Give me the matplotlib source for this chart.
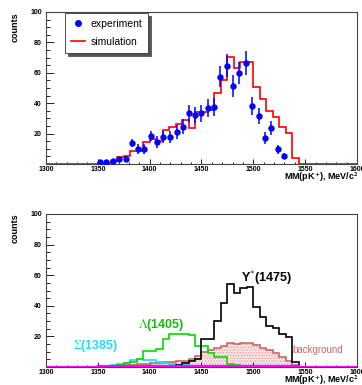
import matplotlib

matplotlib.use("Agg")
import matplotlib.pyplot as plt
import numpy as np
from matplotlib.lines import Line2D
from matplotlib.ticker import MultipleLocator, FixedLocator

plt.rcParams["font.family"] = ["Liberation Sans", "DejaVu Sans"]
plt.rcParams["mathtext.fontset"] = "stix"
plt.rcParams["hatch.linewidth"] = 0.6

# histogram binning: 48 bins of 6.25 MeV from 1300 to 1600, filled bins start at 1350
edges = np.linspace(1300, 1600, 49)
first_bin = 8

# top panel: experiment points
exp_mm = [1352, 1358, 1364.5, 1370.5, 1377, 1383, 1389, 1395, 1401, 1407,
          1413, 1419.5, 1426, 1432, 1437.5, 1444, 1450, 1456, 1462, 1468,
          1474.5, 1480.5, 1486.5, 1493, 1499, 1505, 1511, 1517, 1523.5, 1529.5]
exp_counts = [1, 1, 2, 3, 3.5, 14, 10, 10, 18.5, 14.3,
              17.8, 17.8, 21, 24.6, 33.4, 32.3, 33.4, 36.7, 37.4, 57.5,
              64.6, 51.4, 59.8, 66.4, 38.2, 31.6, 16.9, 23.5, 9.7, 5.3]
exp_err = [1.0, 1.0, 1.4, 1.7, 1.9, 2.5, 3.2, 3.2, 3.5, 3.8,
           4.0, 4.0, 4.5, 4.8, 5.5, 5.5, 5.5, 5.8, 5.8, 7.0,
           7.5, 7.0, 7.3, 7.8, 6.0, 5.5, 4.0, 4.6, 3.0, 2.2]

# top panel: simulation histogram (bins from 1350)
simulation = [0.7, 0.7, 1.8, 4.8, 5.3, 8.6, 8.6, 14.7, 16.3, 15.4,
              22.4, 24.6, 26.4, 29, 23.5, 34.5, 34.5, 35.6, 47, 55.4,
              70.3, 63, 67, 67, 50.5, 43, 35, 31.2, 24.6, 20.7, 3.7]

# bottom panel: components (bins from 1350)
y1475 = [0, 0, 0, 0, 0, 0, 0, 0, 0, 0,
         0, 0.5, 1.2, 2.4, 4.0, 5.5, 18.5, 18.5, 30, 42,
         54, 48.6, 51.4, 52.5, 39.4, 32.5, 26.8, 25.3, 21.6, 19.8, 3.5]
lambda1405 = [0, 0, 0.5, 1.3, 2.5, 3.5, 5.0, 10.5, 10.5, 11.5,
              18.5, 21.6, 21.6, 21.6, 21, 14, 14, 9, 6.8, 6.8,
              2, 1.2, 0.6, 0.3, 0, 0, 0, 0, 0, 0, 0]
sigma1385 = [0.3, 0.7, 1.2, 1.8, 2.8, 4.5, 5.0, 4.3, 4.6, 3.5,
             2.5, 2.0, 1.5, 1.0, 0.7, 0.4, 0.2, 0, 0, 0,
             0, 0, 0, 0, 0, 0, 0, 0, 0, 0, 0]
background = [0.3, 0.5, 0.8, 1.0, 1.3, 1.6, 1.9, 2.2, 2.5, 2.8,
              3.1, 3.4, 3.8, 4.2, 5.5, 7.5, 9.5, 11, 12.5, 14,
              16, 15.3, 15.5, 15.8, 14.5, 12.5, 11, 9, 6.5, 4, 1.2]
other = [0.5, 0.5, 0.5, 0.5, 0.5, 0.5, 0.5, 0.5, 0.5, 0.5,
         0.5, 0.5, 0.5, 0.5, 0.5, 0.5, 0.5, 0.5, 0.5, 0.5,
         0.5, 0.5, 0.5, 0.5, 0.5, 0.5, 0.5, 0.5, 0.5, 0.5, 0.4]

xticks = [1300, 1350, 1400, 1450, 1500, 1550, 1600]
yticks = [20, 40, 60, 80, 100]


def full(vals):
    h = np.zeros(len(edges) - 1)
    h[first_bin:first_bin + len(vals)] = vals
    return h


def style_axes(ax):
    ax.set_xlim(1300, 1600)
    ax.set_ylim(0, 100)
    ax.xaxis.set_major_locator(FixedLocator(xticks))
    ax.xaxis.set_minor_locator(MultipleLocator(10))
    ax.yaxis.set_major_locator(FixedLocator(yticks))
    ax.yaxis.set_minor_locator(MultipleLocator(5))
    ax.tick_params(axis="both", which="both", direction="in", top=False, right=False,
                   labelsize=5)
    ax.tick_params(axis="x", which="major", length=3.4, width=0.6, pad=1.5)
    ax.tick_params(axis="x", which="minor", length=1.8, width=0.6)
    ax.tick_params(axis="y", which="major", length=5.8, width=0.6, pad=3)
    ax.tick_params(axis="y", which="minor", length=2.9, width=0.6)
    for lab in ax.get_xticklabels() + ax.get_yticklabels():
        lab.set_fontweight("bold")
    for s in ax.spines.values():
        s.set_color("#444444")
        s.set_linewidth(0.8)


fig = plt.figure(figsize=(3.62, 3.85), dpi=100)
W, H = 362, 385
ax1 = fig.add_axes([46 / W, 1 - 164 / H, 311 / W, 152 / H])
ax2 = fig.add_axes([46 / W, 1 - 367 / H, 311 / W, 153 / H])

# top panel
ax1.stairs(full(simulation), edges, color="#ff0000", linewidth=1.2, zorder=2)
ax1.errorbar(exp_mm, exp_counts, yerr=exp_err, fmt="o", color="#0000ff",
             markersize=3.6, elinewidth=1.1, capsize=0, zorder=3)
style_axes(ax1)
handles = [Line2D([], [], marker="o", linestyle="none", color="#0000ff", markersize=4),
           Line2D([], [], color="#ff0000", linewidth=1.2)]
leg = ax1.legend(handles, ["experiment", "simulation"], loc="upper left",
                 bbox_to_anchor=(0.061, 0.993), borderaxespad=0, fancybox=False,
                 shadow={"color": "#555555", "alpha": 1}, fontsize=7.5,
                 handlelength=1.4, handletextpad=0.5,
                 labelspacing=0.8, borderpad=0.55, framealpha=1)
leg.get_frame().set_edgecolor("#333333")
leg.get_frame().set_linewidth(0.6)

# bottom panel
ax2.stairs(full(background), edges, fill=True, facecolor="#fbe4e4",
           edgecolor="#e29a9a", linewidth=0, hatch="......", zorder=1)
ax2.stairs(full(background), edges, color="#cc6666", linewidth=1.2, zorder=2)
ax2.stairs(full(sigma1385), edges, color="#00e5ff", linewidth=1.2, zorder=3)
ax2.stairs(full(lambda1405), edges, color="#00dd00", linewidth=1.2, zorder=4)
ax2.stairs(full(y1475), edges, color="#000000", linewidth=1.2, zorder=5)
ax2.stairs(full(other), edges, color="#ff00ff", linewidth=1.6, baseline=None, zorder=6)
style_axes(ax2)

ax2.text(1488, 58, r"Y$^{*}$(1475)", fontsize=9, fontweight="bold", color="black",
         ha="left", va="center")
ax2.text(1388.5, 27.5, r"$\Lambda$(1405)", fontsize=9, fontweight="bold", color="#11bb11",
         ha="left", va="center")
ax2.text(1326, 14, r"$\Sigma$(1385)", fontsize=9, fontweight="bold", color="#22ddff",
         ha="left", va="center")
ax2.text(1538, 11, "background", fontsize=7, color="#cc6666", ha="left", va="center")

# axis titles, ROOT style
for ytop, yx in [(12, 177), (213, 380)]:
    fig.text(15 / W, 1 - ytop / H, "counts", rotation=90, ha="center", va="top",
             fontsize=6.5, fontweight="bold")
    fig.text(358 / W, 1 - yx / H, r"MM(pK$^{\mathbf{+}}$), MeV/c$^{\mathbf{2}}$",
             ha="right", va="center", fontsize=6.5, fontweight="bold")

fig.savefig("out.png", dpi=100)
plt.close(fig)
